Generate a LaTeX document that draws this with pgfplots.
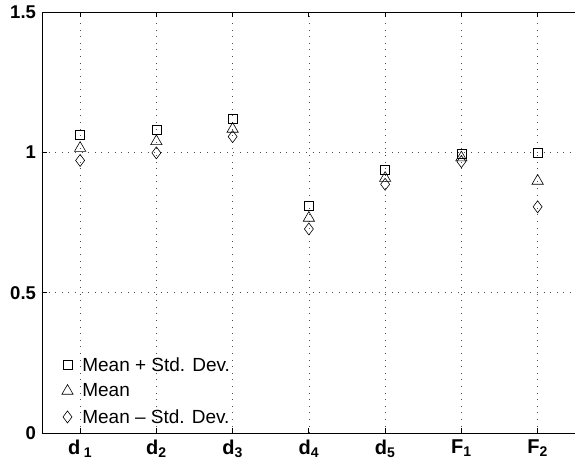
\documentclass[border=0pt]{standalone}
\usepackage{fontspec}
\setmainfont{Liberation Sans}
\usepackage{pgfplots}
\pgfplotsset{compat=1.18}
\pgfplotsset{myleg/.style={legend image code/.code={\draw[##1] plot coordinates {(6pt,0pt)}; \path (0pt,-5pt) (18.5pt,5pt);}}}
\begin{document}
\begin{tikzpicture}
\begin{axis}[
  scale only axis, width=533.75pt, height=421pt,
  xmin=0.5, xmax=7.5, ymin=0, ymax=1.5,
  axis line style={black, line width=0.8pt},
  xtick={1,2,3,4,5,6,7},
  xticklabels={{\textbf{d}\,\textsubscript{\textbf{1}}},{\textbf{d}\textsubscript{\textbf{2}}},{\textbf{d}\textsubscript{\textbf{3}}},{\textbf{d}\textsubscript{\textbf{4}}},{\textbf{d}\textsubscript{\textbf{5}}},{\textbf{F}\textsubscript{\textbf{1}}},{\textbf{F}\textsubscript{\textbf{2}}}},
  ytick={0,0.5,1,1.5},
  yticklabels={0,0.5,1,1.5},
  ytick pos=left,
  tick align=inside, major tick length=5pt,
  tick style={black, line width=0.8pt},
  xmajorgrids, ymajorgrids,
  grid style={black!70, line width=0.7pt, dash pattern=on 0.8pt off 5.8pt},
  yticklabel style={font=\fontsize{18.5}{20}\selectfont\bfseries, xshift=-2.5pt},
  xticklabel style={font=\fontsize{20}{22}\selectfont\bfseries, yshift=-3pt},
  legend style={at={(0.030,0.010)}, anchor=south west, draw=none, fill=none,
    font=\fontsize{19}{21}\selectfont, row sep=7pt},
  legend cell align=left,
]
\addplot[only marks, mark=square, mark size=4.5pt, black, line width=0.6pt, myleg] coordinates {
  (1,1.064) (2,1.082) (3,1.121) (4,0.811) (5,0.939) (6,0.996) (7,0.998)};
\addplot[only marks, mark=triangle, mark size=6.5pt, black, line width=0.6pt, myleg] coordinates {
  (1,1.015) (2,1.039) (3,1.083) (4,0.766) (5,0.908) (6,0.981) (7,0.898)};
\addplot[only marks, mark=diamond, mark size=6pt, black, line width=0.6pt, myleg] coordinates {
  (1,0.971) (2,0.998) (3,1.056) (4,0.727) (5,0.886) (6,0.967) (7,0.806)};
\legend{Mean + Std. Dev., Mean, Mean – Std. Dev.}
\end{axis}
\pgfresetboundingbox
\path ([xshift=-42pt,yshift=-31pt]current axis.south west) rectangle ([xshift=533pt,yshift=12pt]current axis.north west);
\end{tikzpicture}
\end{document}
